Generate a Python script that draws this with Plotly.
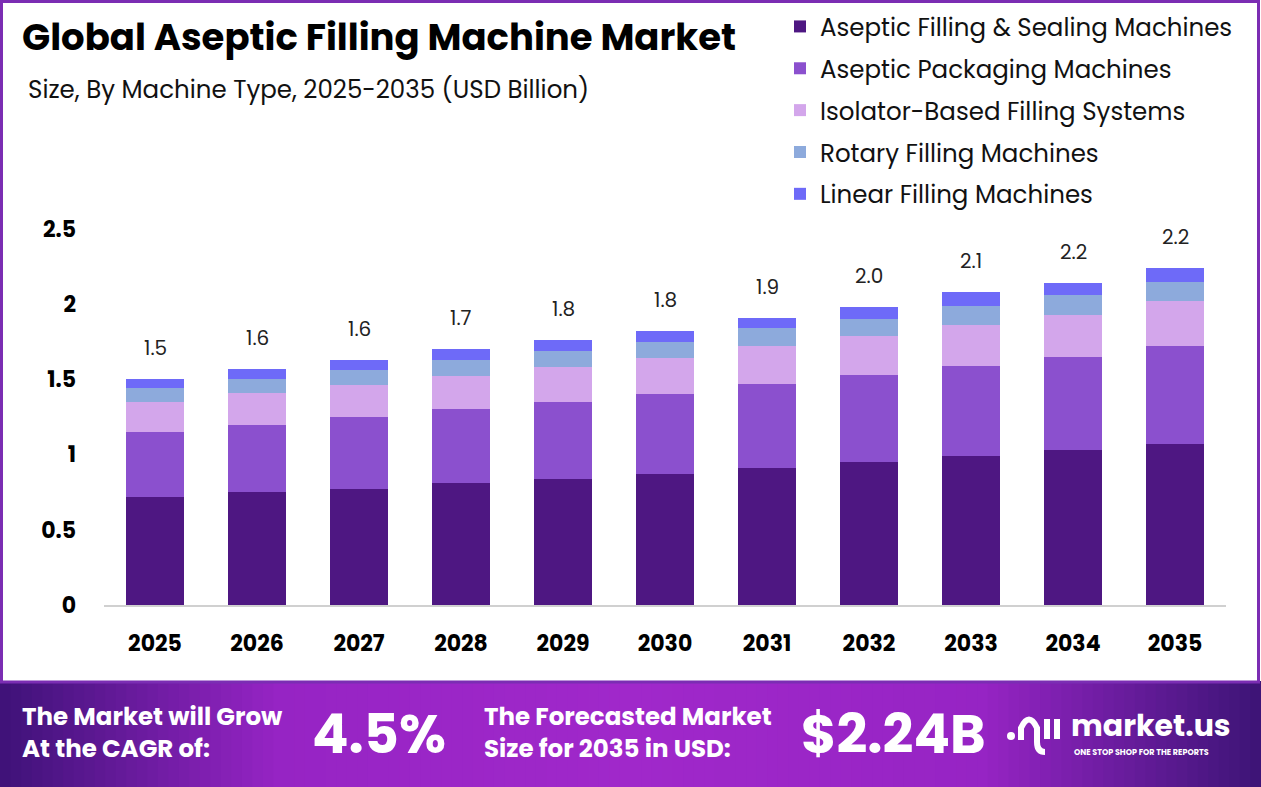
import plotly.graph_objects as go

years = ["2025", "2026", "2027", "2028", "2029", "2030", "2031", "2032", "2033", "2034", "2035"]
filling_sealing = [0.72, 0.75, 0.77, 0.81, 0.84, 0.87, 0.91, 0.95, 0.99, 1.03, 1.07]
packaging = [0.43, 0.45, 0.48, 0.49, 0.51, 0.53, 0.56, 0.58, 0.60, 0.62, 0.65]
isolator = [0.20, 0.21, 0.21, 0.22, 0.23, 0.24, 0.25, 0.26, 0.27, 0.28, 0.30]
rotary = [0.09, 0.09, 0.10, 0.11, 0.11, 0.11, 0.12, 0.11, 0.13, 0.13, 0.13]
linear = [0.06, 0.07, 0.07, 0.07, 0.07, 0.07, 0.07, 0.08, 0.09, 0.08, 0.09]
total_labels = ["1.5", "1.6", "1.6", "1.7", "1.8", "1.8", "1.9", "2.0", "2.1", "2.2", "2.2"]
y_ticks = [0, 0.5, 1, 1.5, 2, 2.5]
y_tick_text = ["0", "0.5", "1", "1.5", "2", "2.5"]

series = [
    ("Aseptic Filling & Sealing Machines", filling_sealing, "#4E1782"),
    ("Aseptic Packaging Machines", packaging, "#8B50CE"),
    ("Isolator-Based Filling Systems", isolator, "#D3A6EB"),
    ("Rotary Filling Machines", rotary, "#8DAADC"),
    ("Linear Filling Machines", linear, "#6E6AF8"),
]

W, H = 1261, 787
L, R, T, B = 104, 1226, 229, 605


def px_x(x):
    return (x - L) / (R - L)


def px_y(y):
    return (B - y) / (B - T)


FONT = "Poppins, Inter, sans-serif"

fig = go.Figure()
for i, (name, vals, col) in enumerate(series):
    fig.add_trace(go.Bar(
        x=years, y=vals, name=name, marker_color=col,
        marker_line_width=0, legendgroup=f"g{i}",
        hoverinfo="skip",
    ))

totals = [sum(v) for v in zip(filling_sealing, packaging, isolator, rotary, linear)]
annotations = []
for idx, (tot, lab) in enumerate(zip(totals, total_labels)):
    annotations.append(dict(
        x=idx, y=tot, xref="x", yref="y", text=lab, showarrow=False,
        xanchor="center", yanchor="middle", yshift=31,
        font=dict(family=FONT, size=20, color="#222222"),
    ))

# title + subtitle
annotations.append(dict(
    x=px_x(20), y=px_y(37), xref="paper", yref="paper", xanchor="left", yanchor="middle",
    text="<b>Global Aseptic Filling Machine Market</b>", showarrow=False,
    font=dict(family=FONT, size=37, color="#000000"),
))
annotations.append(dict(
    x=px_x(26), y=px_y(89), xref="paper", yref="paper", xanchor="left", yanchor="middle",
    text="Size, By Machine Type, 2025-2035 (USD Billion)", showarrow=False,
    font=dict(family=FONT, size=24.5, color="#111111"),
))

# banner texts
white = "#FFFFFF"
annotations += [
    dict(x=px_x(20), y=px_y(732), xref="paper", yref="paper", xanchor="left", yanchor="middle",
         text="<b>The Market will Grow<br>At the CAGR of:</b>", showarrow=False, align="left",
         font=dict(family=FONT, size=24.5, color=white)),
    dict(x=px_x(379), y=px_y(734), xref="paper", yref="paper", xanchor="center", yanchor="middle",
         text="<b>4.5%</b>", showarrow=False,
         font=dict(family=FONT, size=54, color=white)),
    dict(x=px_x(482), y=px_y(732), xref="paper", yref="paper", xanchor="left", yanchor="middle",
         text="<b>The Forecasted Market<br>Size for 2035 in USD:</b>", showarrow=False, align="left",
         font=dict(family=FONT, size=24.5, color=white)),
    dict(x=px_x(893), y=px_y(734), xref="paper", yref="paper", xanchor="center", yanchor="middle",
         text="<b>$2.24B</b>", showarrow=False,
         font=dict(family=FONT, size=54, color=white)),
    dict(x=px_x(1069), y=px_y(725), xref="paper", yref="paper", xanchor="left", yanchor="middle",
         text="<b>market.us</b>", showarrow=False,
         font=dict(family=FONT, size=30, color=white)),
    dict(x=px_x(1072), y=px_y(752), xref="paper", yref="paper", xanchor="left", yanchor="middle",
         text="<b>ONE STOP SHOP FOR THE REPORTS</b>", showarrow=False,
         font=dict(family=FONT, size=8, color=white)),
]

shapes = []
# gradient banner made of thin strips
stops = [(0.0, (62, 18, 120)), (0.22, (150, 36, 196)), (0.5, (160, 40, 202)),
         (0.78, (150, 36, 196)), (1.0, (60, 20, 118))]


def grad(t):
    for (t0, c0), (t1, c1) in zip(stops[:-1], stops[1:]):
        if t0 <= t <= t1:
            f = (t - t0) / (t1 - t0)
            return "rgb(%d,%d,%d)" % tuple(round(a + (b - a) * f) for a, b in zip(c0, c1))
    return "rgb(%d,%d,%d)" % stops[-1][1]


n = 120
for k in range(n):
    x0 = W * k / n
    x1 = W * (k + 1) / n + 1
    shapes.append(dict(type="rect", xref="paper", yref="paper", layer="below",
                       x0=px_x(x0), x1=px_x(x1), y0=px_y(681), y1=px_y(H),
                       fillcolor=grad((k + 0.5) / n), line_width=0))
# frame border
shapes.append(dict(type="rect", xref="paper", yref="paper", layer="below",
                   x0=px_x(1.5), x1=px_x(W - 2.5), y0=px_y(682), y1=px_y(1.5),
                   line=dict(color="#7B2DB3", width=3), fillcolor="rgba(0,0,0,0)"))
# logo icon (approximation)
shapes.append(dict(type="circle", xref="paper", yref="paper",
                   x0=px_x(1007), x1=px_x(1015), y0=px_y(740), y1=px_y(732),
                   fillcolor=white, line_width=0))
shapes.append(dict(type="path", xref="paper", yref="paper",
                   path="M {0},{1} L {0},{2} Q {3},{4} {5},{2} L {5},{6} Q {5},{7} {8},{7}".format(
                       px_x(1021), px_y(740), px_y(728), px_x(1029), px_y(711),
                       px_x(1037), px_y(742), px_y(752), px_x(1045)),
                   line=dict(color=white, width=6)))
for xx in (1047, 1057):
    shapes.append(dict(type="line", xref="paper", yref="paper",
                       x0=px_x(xx), x1=px_x(xx), y0=px_y(719), y1=px_y(739),
                       line=dict(color=white, width=6)))

fig.update_layout(
    width=W, height=H,
    margin=dict(l=L, r=W - R, t=T, b=H - B, pad=0, autoexpand=False),
    paper_bgcolor="#FFFFFF", plot_bgcolor="#FFFFFF",
    barmode="stack", bargap=0.44,
    showlegend=True,
    legend=dict(
        x=px_x(780), y=px_y(4), xanchor="left", yanchor="top",
        xref="paper", yref="paper",
        traceorder="grouped", tracegroupgap=7,
        font=dict(family=FONT, size=24.5, color="#111111"),
        bgcolor="rgba(0,0,0,0)", itemclick=False,
    ),
    xaxis=dict(
        type="category", range=[-0.5, 10.5], showgrid=False, zeroline=False,
        showline=True, linecolor="#D0D0D0", linewidth=2,
        tickfont=dict(family=FONT, size=22, color="#000000", weight="bold"),
        ticks="", ticklabelstandoff=18,
    ),
    yaxis=dict(
        range=[0, 2.5], showgrid=False, zeroline=False, showline=False,
        tickvals=y_ticks, ticktext=y_tick_text,
        tickfont=dict(family=FONT, size=22, color="#000000", weight="bold"),
        ticks="", ticklabelstandoff=27,
    ),
    annotations=annotations,
    shapes=shapes,
)

fig.write_html("out.html")
